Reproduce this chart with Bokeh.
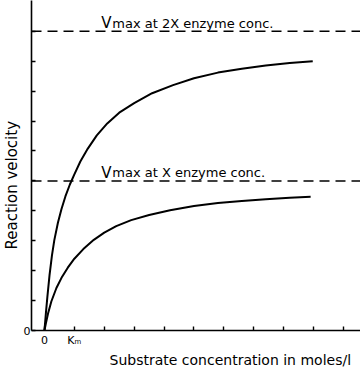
from bokeh.plotting import figure
from bokeh.models import Range1d, FixedTicker, Span, Label, Title
from bokeh.embed import file_html
from bokeh.resources import INLINE

# ---- data (1 unit = one tick) ----
s_2x = [0, 0.05, 0.1, 0.17, 0.25, 0.33, 0.45, 0.57, 0.7, 0.85, 1.0, 1.2, 1.45,
        1.75, 2.1, 2.5, 3.0, 3.6, 4.3, 5.0, 5.8, 6.6, 7.4, 8.2, 8.97]
v_2x = [0, 0.6, 1.15, 1.85, 2.5, 3.02, 3.6, 4.06, 4.48, 4.88, 5.22, 5.65, 6.08,
        6.52, 6.92, 7.28, 7.6, 7.93, 8.2, 8.43, 8.62, 8.75, 8.86, 8.94, 9.0]

s_1x = [0, 0.05, 0.12, 0.23, 0.4, 0.57, 0.78, 1.0, 1.3, 1.65, 2.0, 2.4, 2.9,
        3.5, 4.2, 5.0, 5.8, 6.6, 7.4, 8.2, 8.9]
v_1x = [0, 0.25, 0.57, 0.97, 1.42, 1.76, 2.1, 2.4, 2.72, 3.03, 3.27, 3.49, 3.69,
        3.86, 4.02, 4.16, 4.26, 4.33, 4.39, 4.435, 4.47]

vmax_2x = 10
vmax_1x = 5

x_ticks = [0, 1, 2, 3, 4, 5, 6, 7, 8, 9, 10]
x_tick_labels = {0: "0", 1: "K\u2098"}
y_ticks = [0, 1, 2, 3, 4, 5, 6, 7, 8, 9, 10]
y_tick_labels = {0: "0"}

FONT = "DejaVu Sans"

p = figure(width=360, height=367,
           x_range=Range1d(-0.433, 10.567), y_range=Range1d(0, 11.03),
           output_backend="svg", toolbar_location=None,
           min_border_left=24, min_border_right=0,
           min_border_top=0, min_border_bottom=35)
p.grid.visible = False
p.outline_line_color = None

for ax, ticks, labels in ((p.xaxis[0], x_ticks, x_tick_labels),
                          (p.yaxis[0], y_ticks, y_tick_labels)):
    ax.ticker = FixedTicker(ticks=ticks)
    ax.major_label_overrides = {t: labels.get(t, "") for t in ticks}
    ax.major_tick_in = 4
    ax.major_tick_out = 0
    ax.minor_tick_in = 0
    ax.minor_tick_out = 0
    ax.axis_line_width = 1.6
    ax.axis_line_color = "black"
    ax.major_tick_line_width = 1.4
    ax.major_tick_line_color = "black"
    ax.major_label_text_font = FONT
    ax.major_label_text_font_size = "11px"
    ax.major_label_text_color = "black"
p.xaxis[0].major_label_standoff = 3
p.yaxis[0].major_label_standoff = 1

p.add_layout(Title(text="Substrate concentration in moles/l", align="left",
                   offset=78, standoff=0, text_font=FONT,
                   text_font_size="14px", text_font_style="normal",
                   text_color="black"), "below")
p.add_layout(Title(text="Reaction velocity", align="left", offset=81,
                   standoff=0, text_font=FONT, text_font_size="15px",
                   text_font_style="normal", text_color="black"), "left")

# Vmax dashed lines
for vm in (vmax_2x, vmax_1x):
    p.add_layout(Span(location=vm, dimension="width", line_color="black",
                      line_width=1.5, line_dash="10 6"))

# curves
p.line(s_2x, v_2x, line_color="black", line_width=2)
p.line(s_1x, v_1x, line_color="black", line_width=2)

# annotations
for vm, txt in ((vmax_2x, "max at 2X enzyme conc."), (vmax_1x, "max at X enzyme conc.")):
    p.add_layout(Label(x=1.9, y=vm + 0.27, text="V", text_font=FONT,
                       text_font_size="15px", text_color="black",
                       text_baseline="alphabetic"))
    p.add_layout(Label(x=1.9, y=vm + 0.27, x_offset=11, text=txt, text_font=FONT,
                       text_font_size="13px", text_color="black",
                       text_baseline="alphabetic"))

open("out.html", "w").write(file_html(p, INLINE))
